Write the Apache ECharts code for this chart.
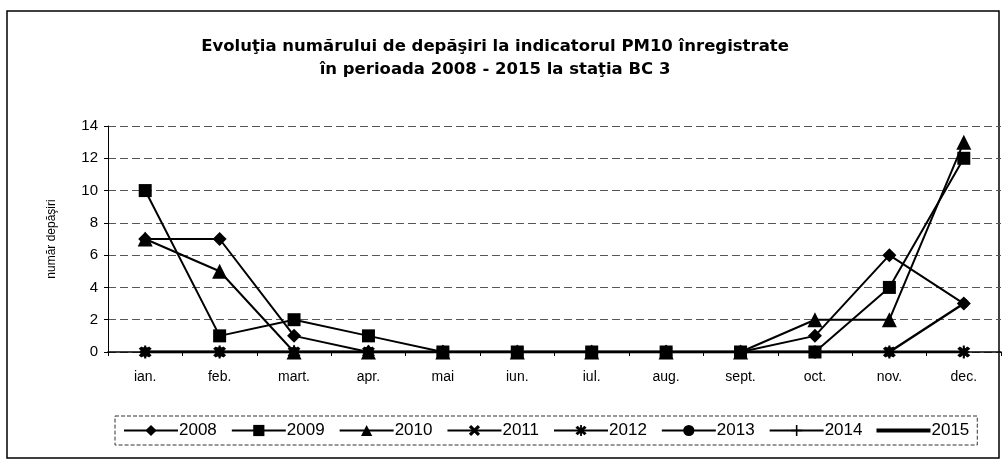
<!DOCTYPE html>
<html>
<head>
<meta charset="utf-8">
<script src="https://cdn.jsdelivr.net/npm/echarts@6/dist/echarts.min.js"></script>
<style>
  html, body { margin: 0; padding: 0; background: #fff; }
  #main { width: 1002px; height: 461px; }
</style>
</head>
<body>
<div id="main"></div>
<script>
// luni
const months = ['ian.', 'feb.', 'mart.', 'apr.', 'mai', 'iun.', 'iul.', 'aug.', 'sept.', 'oct.', 'nov.', 'dec.'];
const years = ['2008', '2009', '2010', '2011', '2012', '2013', '2014', '2015'];

// numar depasiri pe ani
const d2008 = [7, 7, 1, 0, 0, 0, 0, 0, 0, 1, 6, 3];
const d2009 = [10, 1, 2, 1, 0, 0, 0, 0, 0, 0, 4, 12];
const d2010 = [7, 5, 0, 0, 0, 0, 0, 0, 0, 2, 2, 13];
const d2011 = [0, 0, 0, 0, 0, 0, 0, 0, 0, 0, 0, 0];
const d2012 = [0, 0, 0, 0, 0, 0, 0, 0, 0, 0, 0, 0];
const d2013 = [0, 0, 0, 0, 0, 0, 0, 0, 0, 0, 0, 3];
const d2014 = [0, 0, 0, 0, 0, 0, 0, 0, 0, 0, 0, 0];
const d2015 = [0, 0, 0, 0, 0, 0, 0, 0, 0, 0, 0, 0];
const yTicks = [0, 2, 4, 6, 8, 10, 12, 14];

const allData = [d2008, d2009, d2010, d2011, d2012, d2013, d2014, d2015];

const X_SYM = 'path://M2,0 L5,3 L8,0 L10,2 L7,5 L10,8 L8,10 L5,7 L2,10 L0,8 L3,5 L0,2 Z';
const PLUS_SYM = 'path://M4.3,0 H5.7 V4.3 H10 V5.7 H5.7 V10 H4.3 V5.7 H0 V4.3 H4.3 Z';
const STAR_SYM = 'path://M2,0 L5,3 L8,0 L10,2 L7,5 L10,8 L8,10 L5,7 L2,10 L0,8 L3,5 L0,2 Z M4.2,-1 H5.8 V11 H4.2 Z';

const symbols = ['diamond', 'rect', 'triangle', X_SYM, STAR_SYM, 'circle', PLUS_SYM, 'none'];
const sizes = [14, 13, 15, 10, 13, 10, 11, 0];
const widths = [2, 2, 2, 1, 2, 2.5, 1, 3];

let series = years.map((y, i) => ({
    name: y,
    type: 'line',
    data: allData[i],
    symbol: symbols[i],
    symbolSize: sizes[i],
    showSymbol: i !== 7,
    lineStyle: { color: '#000', width: widths[i] },
    itemStyle: { color: '#000' },
    z: 10 - i
}));

// 2015 nu are marcaj: doar o linie groasa in legenda
let legendData = years.map(y => y === '2015'
    ? { name: y, icon: 'path://M0,0 H54 V4 H0 Z' }
    : y);

let myChart = echarts.init(document.getElementById('main'));

let option = {
    animation: false,
    backgroundColor: '#fff',
    textStyle: { fontFamily: 'Liberation Sans, Arial, sans-serif', color: '#000' },
    title: {
        text: 'Evoluţia numărului de depăşiri la indicatorul PM10 înregistrate\nîn perioada 2008 - 2015 la staţia BC 3',
        left: 490,
        top: 30,
        textAlign: 'center',
        textStyle: {
            fontFamily: 'DejaVu Sans',
            fontSize: 16.5,
            fontWeight: 'bold',
            lineHeight: 23,
            color: '#000'
        }
    },
    graphic: [{
        type: 'rect',
        shape: { x: 7, y: 11, width: 992, height: 447 },
        style: { fill: 'none', stroke: '#000', lineWidth: 1.5 },
        silent: true
    }],
    legend: {
        data: legendData,
        left: 115,
        top: 416,
        width: 880,
        padding: [6, 8, 6, 8],
        itemGap: 14,
        itemWidth: 54,
        itemHeight: 14,
        borderColor: '#333',
        borderWidth: 1,
        borderType: 'dashed',
        textStyle: { fontSize: 17, color: '#000', padding: [0, 0, 0, -4] }
    },
    grid: { left: 108, right: 1, top: 126, bottom: 109 },
    xAxis: {
        type: 'category',
        data: months,
        boundaryGap: true,
        axisLine: { lineStyle: { color: '#000', width: 1.5 } },
        axisTick: { show: true, inside: false, length: 4, lineStyle: { color: '#000' } },
        axisLabel: { fontSize: 14, color: '#000', margin: 18 }
    },
    yAxis: {
        type: 'value',
        min: yTicks[0],
        max: yTicks[yTicks.length - 1],
        interval: 2,
        name: 'număr depăşiri',
        nameLocation: 'middle',
        nameGap: 50,
        nameTextStyle: { fontSize: 12, color: '#000' },
        axisLine: { show: true, lineStyle: { color: '#000', width: 1 } },
        axisTick: { show: true, length: 4, lineStyle: { color: '#000' } },
        axisLabel: { fontSize: 15, color: '#000', margin: 10 },
        splitLine: { lineStyle: { color: '#555', width: 1, type: [8, 4] } }
    },
    series: series
};

myChart.setOption(option);
</script>
</body>
</html>
